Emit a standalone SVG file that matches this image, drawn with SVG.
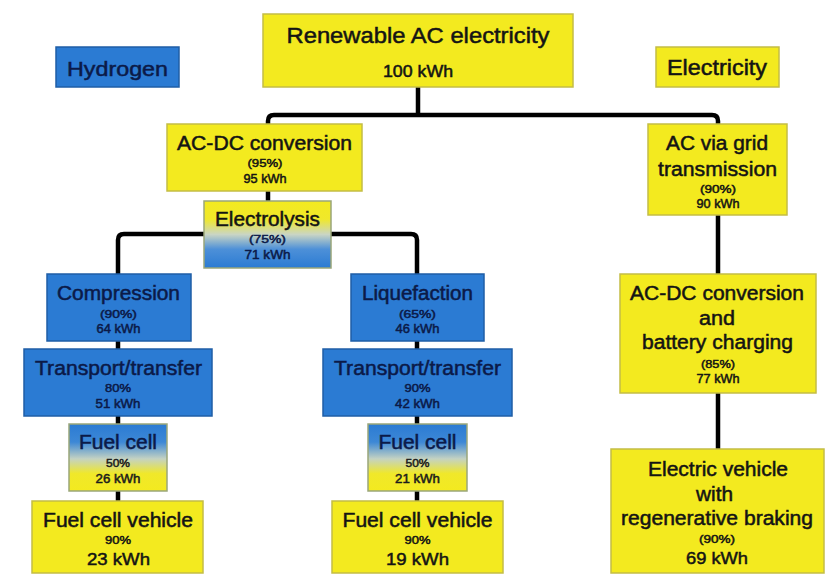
<svg xmlns="http://www.w3.org/2000/svg" width="840" height="582" viewBox="0 0 840 582">
<defs>
<linearGradient id="gElec" x1="0" y1="0" x2="0" y2="1">
<stop offset="0" stop-color="#f3ea1f"/>
<stop offset="0.27" stop-color="#f0e82a"/>
<stop offset="0.5" stop-color="#c9d5c4"/>
<stop offset="0.72" stop-color="#4d90d8"/>
<stop offset="1" stop-color="#2b7bd3"/>
</linearGradient>
<linearGradient id="gFuel" x1="0" y1="0" x2="0" y2="1">
<stop offset="0" stop-color="#2b7bd3"/>
<stop offset="0.27" stop-color="#3d88d6"/>
<stop offset="0.52" stop-color="#c4d2c2"/>
<stop offset="0.74" stop-color="#f0e82a"/>
<stop offset="1" stop-color="#f3ea1f"/>
</linearGradient>
<style>
.y{fill:#f3ea1f;stroke:#c4bd45;stroke-width:1.5}
.b{fill:#2b7bd3;stroke:#1f5ea6;stroke-width:1.5}
.ge{fill:url(#gElec);stroke:#9aa67a;stroke-width:1.5}
.gf{fill:url(#gFuel);stroke:#9aa67a;stroke-width:1.5}
text{font-family:"Liberation Sans",Arial,sans-serif;text-anchor:middle;fill:#141414;stroke:#141414;stroke-width:0.5}
.n text,text.nv{fill:#0b1a48;stroke:#0b1a48}
text.dk{fill:#1c1c1c;stroke:#1c1c1c}
.L{font-size:19.5px}
.T{font-size:22px}
.s{font-size:11.5px}
.k{font-size:12.5px}
.K{font-size:17px}
.c{fill:none;stroke:#000;stroke-width:4.5;stroke-linejoin:round}
</style>
</defs>
<rect width="840" height="582" fill="#fff"/>
<g id="connectors">
<path class="c" d="M418 87 V115"/>
<path class="c" d="M268 124 V121 Q268 115 274 115 H712 Q718 115 718 121 V124"/>
<path class="c" d="M268 191 V201"/>
<path class="c" d="M118 274 V240 Q118 234 124 234 H411 Q417 234 417 240 V274"/>
<path class="c" d="M118 341 V349 M118 416 V424 M118 491 V501"/>
<path class="c" d="M417 341 V349 M417 416 V424 M417 491 V501"/>
<path class="c" d="M718 215 V274 M718 393 V449"/>
</g>
<g id="renewable">
<rect class="y" x="263" y="14" width="310" height="73"/>
<text class="T" x="418" y="43" textLength="263" lengthAdjust="spacingAndGlyphs">Renewable AC electricity</text>
<text x="418" y="77" font-size="16" textLength="70" lengthAdjust="spacingAndGlyphs">100 kWh</text>
</g>
<g id="hydrogen" class="n">
<rect class="b" x="56" y="47" width="123" height="40"/>
<text x="117.5" y="75.5" font-size="20.5" textLength="101" lengthAdjust="spacingAndGlyphs">Hydrogen</text>
</g>
<g id="electricity">
<rect class="y" x="656" y="47" width="123" height="40"/>
<text x="717" y="75" font-size="21.5" textLength="100" lengthAdjust="spacingAndGlyphs">Electricity</text>
</g>
<g id="acdc1">
<rect class="y" x="167" y="124" width="195" height="67"/>
<text class="L" x="264.5" y="150" textLength="175" lengthAdjust="spacingAndGlyphs">AC-DC conversion</text>
<text class="s" x="265" y="167" textLength="35" lengthAdjust="spacingAndGlyphs">(95%)</text>
<text class="k" x="265" y="183" textLength="43" lengthAdjust="spacingAndGlyphs">95 kWh</text>
</g>
<g id="grid">
<rect class="y" x="648" y="124" width="139" height="91"/>
<text class="L" x="717" y="150" textLength="102" lengthAdjust="spacingAndGlyphs">AC via grid</text>
<text class="L" x="717.5" y="176" textLength="119" lengthAdjust="spacingAndGlyphs">transmission</text>
<text class="s" x="718" y="193" textLength="36" lengthAdjust="spacingAndGlyphs">(90%)</text>
<text class="k" x="718" y="208" textLength="43" lengthAdjust="spacingAndGlyphs">90 kWh</text>
</g>
<g id="electrolysis">
<rect class="ge" x="204" y="201" width="127" height="67"/>
<text class="L" x="267.5" y="226" textLength="105" lengthAdjust="spacingAndGlyphs">Electrolysis</text>
<text class="s nv" x="267.5" y="243" textLength="37" lengthAdjust="spacingAndGlyphs">(75%)</text>
<text class="k nv" x="267.5" y="259" textLength="46" lengthAdjust="spacingAndGlyphs">71 kWh</text>
</g>
<g id="compression" class="n">
<rect class="b" x="47" y="274" width="144" height="67"/>
<text class="L" x="118.5" y="300" textLength="123" lengthAdjust="spacingAndGlyphs">Compression</text>
<text class="s" x="118.5" y="318" textLength="37" lengthAdjust="spacingAndGlyphs">(90%)</text>
<text class="k" x="118.5" y="333" textLength="44" lengthAdjust="spacingAndGlyphs">64 kWh</text>
</g>
<g id="transport1" class="n">
<rect class="b" x="24" y="349" width="188" height="67"/>
<text class="L" x="118.5" y="375" textLength="167" lengthAdjust="spacingAndGlyphs">Transport/transfer</text>
<text class="s" x="118" y="392" textLength="26" lengthAdjust="spacingAndGlyphs">80%</text>
<text class="k" x="118" y="408" textLength="45" lengthAdjust="spacingAndGlyphs">51 kWh</text>
</g>
<g id="fuelcell1">
<rect class="gf" x="69" y="424" width="98" height="67"/>
<text class="L nv" x="118" y="449" textLength="78" lengthAdjust="spacingAndGlyphs">Fuel cell</text>
<text class="s dk" x="118" y="467" textLength="24" lengthAdjust="spacingAndGlyphs">50%</text>
<text class="k dk" x="118" y="483" textLength="45" lengthAdjust="spacingAndGlyphs">26 kWh</text>
</g>
<g id="fcv1">
<rect class="y" x="32" y="501" width="171" height="72"/>
<text class="L" x="118" y="527" textLength="150" lengthAdjust="spacingAndGlyphs">Fuel cell vehicle</text>
<text class="s" x="118" y="544" textLength="26" lengthAdjust="spacingAndGlyphs">90%</text>
<text class="K" x="118.5" y="565" textLength="63" lengthAdjust="spacingAndGlyphs">23 kWh</text>
</g>
<g id="liquefaction" class="n">
<rect class="b" x="351" y="274" width="133" height="67"/>
<text class="L" x="417.5" y="300" textLength="111" lengthAdjust="spacingAndGlyphs">Liquefaction</text>
<text class="s" x="417.5" y="318" textLength="37" lengthAdjust="spacingAndGlyphs">(65%)</text>
<text class="k" x="417.5" y="333" textLength="44" lengthAdjust="spacingAndGlyphs">46 kWh</text>
</g>
<g id="transport2" class="n">
<rect class="b" x="323" y="349" width="189" height="67"/>
<text class="L" x="417.5" y="375" textLength="167" lengthAdjust="spacingAndGlyphs">Transport/transfer</text>
<text class="s" x="417.5" y="392" textLength="26" lengthAdjust="spacingAndGlyphs">90%</text>
<text class="k" x="417.5" y="408" textLength="45" lengthAdjust="spacingAndGlyphs">42 kWh</text>
</g>
<g id="fuelcell2">
<rect class="gf" x="368" y="424" width="99" height="67"/>
<text class="L nv" x="417.5" y="449" textLength="78" lengthAdjust="spacingAndGlyphs">Fuel cell</text>
<text class="s dk" x="417.5" y="467" textLength="24" lengthAdjust="spacingAndGlyphs">50%</text>
<text class="k dk" x="417.5" y="483" textLength="45" lengthAdjust="spacingAndGlyphs">21 kWh</text>
</g>
<g id="fcv2">
<rect class="y" x="332" y="501" width="171" height="72"/>
<text class="L" x="417.5" y="527" textLength="150" lengthAdjust="spacingAndGlyphs">Fuel cell vehicle</text>
<text class="s" x="417.5" y="544" textLength="26" lengthAdjust="spacingAndGlyphs">90%</text>
<text class="K" x="417.5" y="565" textLength="63" lengthAdjust="spacingAndGlyphs">19 kWh</text>
</g>
<g id="acdc2">
<rect class="y" x="620" y="274" width="196" height="119"/>
<text class="L" x="717" y="300" textLength="174" lengthAdjust="spacingAndGlyphs">AC-DC conversion</text>
<text class="L" x="717" y="325" textLength="36" lengthAdjust="spacingAndGlyphs">and</text>
<text class="L" x="717.5" y="349" textLength="151" lengthAdjust="spacingAndGlyphs">battery charging</text>
<text class="s" x="718" y="368" textLength="34" lengthAdjust="spacingAndGlyphs">(85%)</text>
<text class="k" x="718" y="383" textLength="43" lengthAdjust="spacingAndGlyphs">77 kWh</text>
</g>
<g id="ev">
<rect class="y" x="611" y="449" width="213" height="124"/>
<text class="L" x="718" y="476" textLength="140" lengthAdjust="spacingAndGlyphs">Electric vehicle</text>
<text class="L" x="714.5" y="501" textLength="37" lengthAdjust="spacingAndGlyphs">with</text>
<text class="L" x="717" y="525" textLength="192" lengthAdjust="spacingAndGlyphs">regenerative braking</text>
<text class="s" x="717" y="543" textLength="36" lengthAdjust="spacingAndGlyphs">(90%)</text>
<text class="K" x="717" y="564" textLength="62" lengthAdjust="spacingAndGlyphs">69 kWh</text>
</g>
</svg>
